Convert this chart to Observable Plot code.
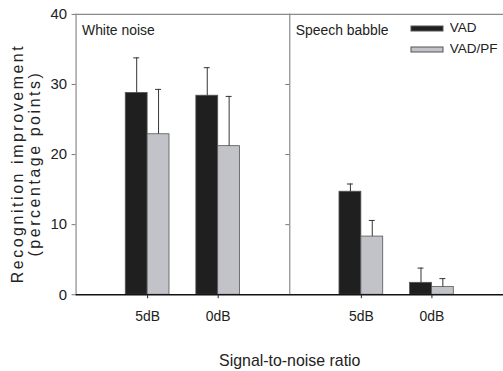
<!DOCTYPE html>
<html>
<head>
<meta charset="utf-8">
<script src="https://cdn.jsdelivr.net/npm/d3@7"></script>
<script src="https://cdn.jsdelivr.net/npm/@observablehq/plot@0.6"></script>
<style>
  html, body { margin: 0; padding: 0; background: #fff; overflow: hidden; }
  #wrap { position: relative; width: 503px; height: 371px; overflow: hidden; font-family: "Liberation Sans", Arial, sans-serif; }
  #wrap svg { font-family: "Liberation Sans", Arial, sans-serif; }
  [aria-label="ylabel"] text, text[aria-label="ylabel"], [aria-label="ylabel"] tspan { letter-spacing: 2.6px; }
  g[aria-label="x-axis label"] text { font-size: 16px; }
  #legend { position: absolute; left: 411px; top: 18px; }
  #legend div { font-size: 13.5px; color: #222; line-height: 20px; font-family: "Liberation Sans", Arial, sans-serif; }
  #legend svg rect { stroke: #555; stroke-width: 1; }
</style>
</head>
<body>
<div id="wrap"><div id="legend"></div></div>
<script>
const envs = ["White noise", "Speech babble"];
const snrs = ["5dB", "0dB"];
const methods = ["VAD", "VAD/PF"];
const colors = ["#1f1f1f", "#c2c3c9"];

// values in order: White 5dB, White 0dB, Speech 5dB, Speech 0dB
const vadMean = [28.8, 28.4, 14.7, 1.7];
const vadErr  = [5.0, 4.0, 1.1, 2.1];
const pfMean  = [22.9, 21.2, 8.3, 1.1];
const pfErr   = [6.4, 7.1, 2.3, 1.2];
const yTicks = [0, 10, 20, 30, 40];
const yLabel = "Recognition improvement\n(percentage points)";
const xLabel = "Signal-to-noise ratio";

const cells = envs.flatMap(e => snrs.map(s => ({env: e, snr: s})));
const data = [
  ...cells.map((c, i) => ({...c, method: "VAD", value: vadMean[i], err: vadErr[i]})),
  ...cells.map((c, i) => ({...c, method: "VAD/PF", value: pfMean[i], err: pfErr[i]}))
];
const vad = data.filter(d => d.method === "VAD");
const pf = data.filter(d => d.method === "VAD/PF");
const HALF = 22;   // half of the pair band, px
const OFF = 11;    // bar centre offset, px
const CAP = 19;    // cap inset, px

const chart = Plot.plot({
  width: 506,
  height: 371,
  marginLeft: 76,
  marginRight: 0,
  marginTop: 14,
  marginBottom: 75,
  style: {fontFamily: '"Liberation Sans", Arial, sans-serif', color: "#222", background: "#fff"},
  fx: {domain: envs, padding: 0, axis: null},
  x: {domain: snrs, paddingInner: 0.386, paddingOuter: 0.693},
  y: {domain: [0, 40]},
  color: {domain: methods, range: colors},
  marks: [
    Plot.frame({anchor: "left", stroke: "#8a8a8a", strokeWidth: 1.2}),
    Plot.frame({anchor: "top", stroke: "#8a8a8a", strokeWidth: 1.2}),
    Plot.barY(vad, {fx: "env", x: "snr", y: "value", fill: "method", stroke: "#555", strokeWidth: 0.8, insetRight: HALF}),
    Plot.barY(pf, {fx: "env", x: "snr", y: "value", fill: "method", stroke: "#555", strokeWidth: 0.8, insetLeft: HALF}),
    Plot.ruleX(vad, {fx: "env", x: "snr", y1: "value", y2: d => d.value + d.err, dx: -OFF, stroke: "#333"}),
    Plot.ruleX(pf, {fx: "env", x: "snr", y1: "value", y2: d => d.value + d.err, dx: OFF, stroke: "#333"}),
    Plot.tickY(vad, {fx: "env", x: "snr", y: d => d.value + d.err, dx: -OFF, insetLeft: CAP, insetRight: CAP, stroke: "#333"}),
    Plot.tickY(pf, {fx: "env", x: "snr", y: d => d.value + d.err, dx: OFF, insetLeft: CAP, insetRight: CAP, stroke: "#333"}),
    Plot.ruleY([0], {stroke: "#111", strokeWidth: 1.5}),
    Plot.axisY({ticks: yTicks, tickSize: 4, tickPadding: 5, fontSize: 15, stroke: "#777", fill: "#222", label: null}),
    Plot.axisY({facetAnchor: "right", anchor: "left", ticks: [10, 20, 30], tickSize: 4, tickFormat: () => "", stroke: "#777", label: null}),
    Plot.text([yLabel], {fx: () => envs[0], text: d => d, frameAnchor: "left", textAnchor: "middle", rotate: -90, dx: -50, dy: 9,
      lineAnchor: "middle", lineHeight: 1.05, fontSize: 16, fill: "#222", ariaLabel: "ylabel"}),
    Plot.axisX({tickSize: 4, tickPadding: 12, fontSize: 14, stroke: "#222", fill: "#222",
      label: xLabel, labelAnchor: "center", labelArrow: "none", labelOffset: 72}),
    Plot.text(envs, {fx: d => d, text: d => d, frameAnchor: "top-left", dx: 6, dy: 11, lineAnchor: "top", fontSize: 14, fill: "#222"})
  ]
});
document.getElementById("wrap").prepend(chart);
d3.select(chart).selectAll("text").filter(function() { return /Recognition/.test(this.textContent); })
  .style("letter-spacing", "2.6px");

const legend = Plot.legend({
  color: {domain: methods, range: colors},
  swatchWidth: 32, swatchHeight: 5, columns: 1
});
document.getElementById("legend").append(legend);
</script>
</body>
</html>
